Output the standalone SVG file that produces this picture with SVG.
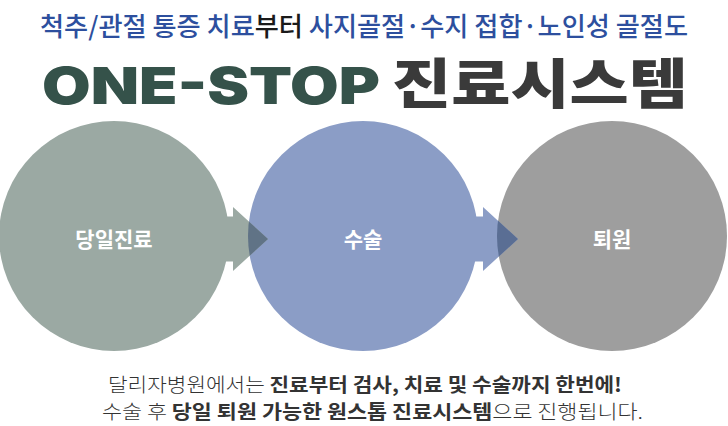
<svg xmlns="http://www.w3.org/2000/svg" width="728" height="426" viewBox="0 0 728 426">
<style>
.lbl{font-family:"Noto Sans CJK KR","Noto Sans",sans-serif;font-weight:700;font-size:21px;fill:#ffffff;text-anchor:middle;dominant-baseline:central}
.hd{font-family:"Noto Sans CJK KR",sans-serif;font-weight:500;font-size:26px;fill:#2d4f9e}
.body{font-family:"Noto Sans CJK KR",sans-serif;font-weight:300;font-size:19.5px;fill:#333333}
.b{font-weight:700}
</style>
<defs>
<clipPath id="c2"><circle cx="363" cy="236" r="115"/></clipPath>
<clipPath id="c3"><circle cx="612" cy="236" r="115"/></clipPath>
</defs>
<text class="hd" x="40" y="36" textLength="648" lengthAdjust="spacingAndGlyphs">척추/관절 통증 치료<tspan fill="#1a1a1a">부터</tspan> 사지골절·수지 접합·노인성 골절도</text>
<text x="42" y="104" font-family="Inter,Lato,Liberation Sans,sans-serif" font-weight="900" font-size="51" fill="#35524a" textLength="338" lengthAdjust="spacingAndGlyphs">ONE-STOP</text>
<text x="392" y="104" font-family="Noto Sans CJK KR,sans-serif" font-weight="900" font-size="54" fill="#3a3a3a" textLength="296" lengthAdjust="spacingAndGlyphs">진료시스템</text>
<g id="node1"><circle cx="114" cy="236" r="115" fill="#9ba9a3"/></g>
<g id="node2"><circle cx="363" cy="236" r="115" fill="#8b9dc6"/></g>
<g id="node3"><circle cx="612" cy="236" r="115" fill="#9e9e9e"/></g>
<g id="connectors">
<path d="M190,216.5 H233 V207 L268,239 L233,271 V261.5 H190 Z" fill="#9ba9a3"/>
<path d="M190,216.5 H233 V207 L268,239 L233,271 V261.5 H190 Z" fill="#607386" clip-path="url(#c2)"/>
<path d="M440,216.5 H483 V207 L518,239 L483,271 V261.5 H440 Z" fill="#8b9dc6"/>
<path d="M440,216.5 H483 V207 L518,239 L483,271 V261.5 H440 Z" fill="#5a6e94" clip-path="url(#c3)"/>
</g>
<g id="labels">
<text class="lbl" x="114" y="238">당일진료</text>
<text class="lbl" x="363" y="238">수술</text>
<text class="lbl" x="612" y="238">퇴원</text>
</g>
<text class="body" x="108" y="392" textLength="514" lengthAdjust="spacingAndGlyphs">달리자병원에서는 <tspan class="b">진료부터 검사, 치료 및 수술까지 한번에!</tspan></text>
<text class="body" x="102" y="419" textLength="541" lengthAdjust="spacingAndGlyphs">수술 후 <tspan class="b">당일 퇴원 가능한 원스톱 진료시스템</tspan>으로 진행됩니다.</text>
</svg>
